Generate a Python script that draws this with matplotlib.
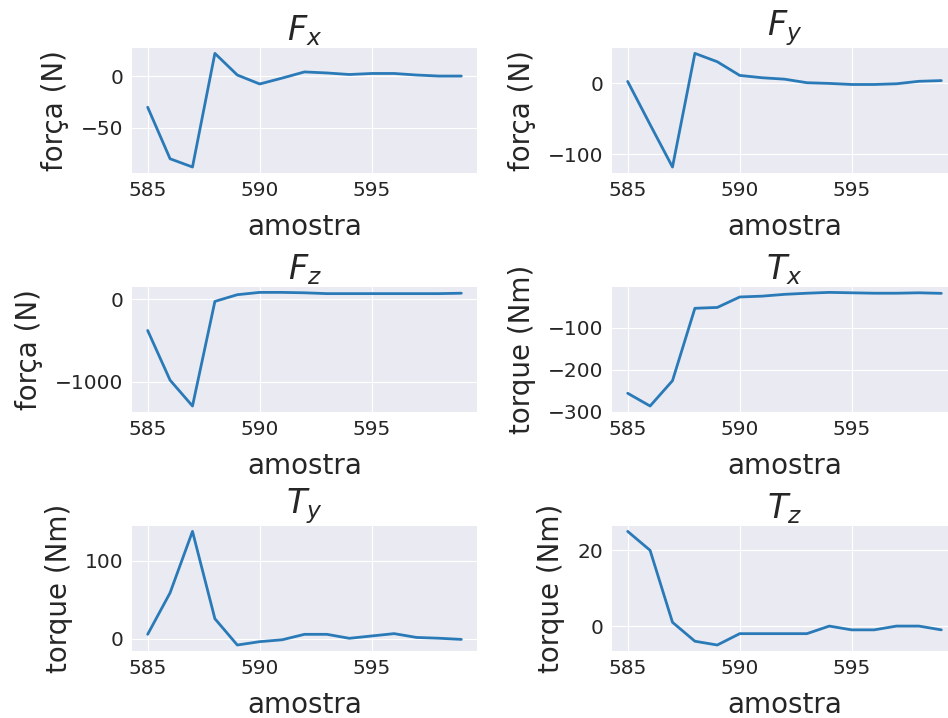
import matplotlib
matplotlib.use("Agg")
import matplotlib.pyplot as plt

plt.style.use("seaborn-v0_8-darkgrid")
plt.rcParams["font.family"] = ["DejaVu Sans"]

amostra = list(range(585, 600))

fx = [-30.3, -80.3, -88.3, 22.0, 1.0, -7.7, -2.0, 4.0, 3.0, 1.5, 2.5, 2.5, 1.0, 0.0, 0.0]
fy = [2.8, -58.0, -118.0, 42.4, 30.6, 11.3, 8.0, 6.0, 1.0, 0.0, -1.5, -1.5, -0.5, 3.0, 4.0]
fz = [-380, -980, -1292, -29, 52, 80, 80, 75, 65, 65, 65, 65, 65, 65, 70]
tx = [-256, -286.5, -226, -53, -51, -26, -24, -19.7, -17, -15, -16, -17, -17, -16, -17.3]
ty = [5.5, 58.7, 137.4, 25.5, -8.2, -3.9, -1.5, 5.5, 5.5, 0.4, 3.4, 6.4, 1.5, 0.5, -1.0]
tz = [25, 20, 1, -4, -5, -2, -2, -2, -2, 0, -1, -1, 0, 0, -1]

titles = [r"$F_x$", r"$F_y$", r"$F_z$", r"$T_x$", r"$T_y$", r"$T_z$"]
ylabels = ["força (N)", "força (N)", "força (N)", "torque (Nm)", "torque (Nm)", "torque (Nm)"]
series = [fx, fy, fz, tx, ty, tz]

W, H = 948, 718
fig = plt.figure(figsize=(W / 100, H / 100), dpi=100)

col_left = [132, 612]
row_top = [47.7, 286.7, 525.7]
ax_w, ax_h = 345, 125

for i, (vals, title, ylab) in enumerate(zip(series, titles, ylabels)):
    r, c = divmod(i, 2)
    left = col_left[c] / W
    bottom = (H - row_top[r] - ax_h) / H
    ax = fig.add_axes([left, bottom, ax_w / W, ax_h / H])
    ax.plot(amostra, vals, color="#2a7ab8", linewidth=2)
    ax.set_title(title, fontsize=24, color=".15", pad=4)
    ax.set_xlabel("amostra", fontsize=20, color=".15", labelpad=9)
    ax.set_ylabel(ylab, fontsize=20, color=".15", labelpad=9)
    ax.set_xticks([585, 590, 595])
    ax.tick_params(labelsize=14.5, colors=".15", pad=6)

fig.savefig("out.png", dpi=100)
